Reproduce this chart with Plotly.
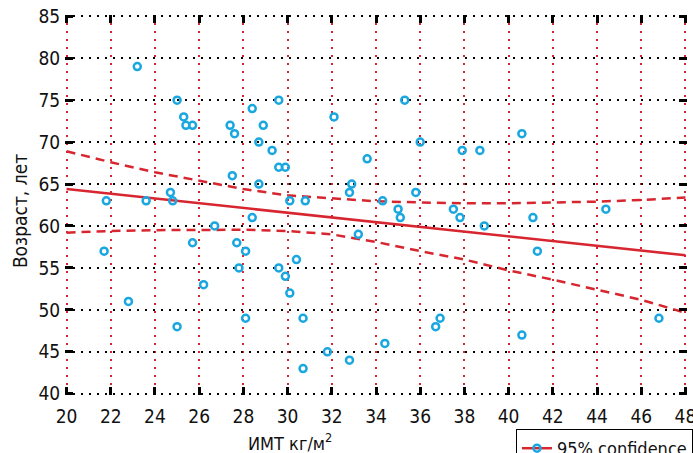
import plotly.graph_objects as go

# Scatter data: BMI (kg/m2) vs age (years)
bmi = [23.2, 25.0, 25.3, 25.4, 25.7, 27.4, 27.6, 27.5, 28.4, 28.9, 28.7, 29.3, 29.6, 29.6, 29.9,
       28.7, 24.7, 21.8, 24.8, 23.6, 26.7, 28.4, 30.1, 30.8, 21.7, 25.7, 27.7, 28.1, 30.4, 27.8,
       29.6, 29.9, 30.1, 26.2, 22.8, 28.1, 25.0, 30.7, 30.7, 31.8, 32.8, 34.4, 36.9, 36.7, 32.1,
       35.3, 36.0, 37.9, 38.7, 33.6, 32.9, 32.8, 35.8, 34.3, 35.0, 35.1, 37.5, 37.8, 38.9, 33.2,
       40.6, 41.1, 44.4, 41.3, 40.6, 46.8]
age = [79, 75, 73, 72, 72, 72, 71, 66, 74, 72, 70, 69, 75, 67, 67,
       65, 64, 63, 63, 63, 60, 61, 63, 63, 57, 58, 58, 57, 56, 55,
       55, 54, 52, 53, 51, 49, 48, 49, 43, 45, 44, 46, 49, 48, 73,
       75, 70, 69, 69, 68, 65, 64, 64, 63, 62, 61, 62, 61, 60, 59,
       71, 61, 62, 57, 47, 49]

# Regression line
fit_x = [20, 48]
fit_y = [64.4, 56.5]

# 95% confidence band
band_x = [20, 22, 24, 26, 28, 30, 32, 34, 36, 38, 40, 42, 44, 46, 48]
band_upper = [68.9, 67.6, 66.4, 65.4, 64.4, 63.65, 63.3, 62.95, 62.8, 62.7, 62.7, 62.8, 62.9, 63.1, 63.4]
band_lower = [59.2, 59.4, 59.5, 59.55, 59.55, 59.4, 59.0, 58.1, 57.0, 56.0, 54.7, 53.6, 52.4, 51.2, 49.65]

x_ticks = list(range(20, 49, 2))
y_ticks = list(range(40, 86, 5))

RED = "#d7262f"
BLUE = "#1aa7e0"
FONT = "Liberation Sans Narrow, DejaVu Sans Condensed, sans-serif"
FS = 19

fig = go.Figure()
fig.add_trace(go.Scatter(x=band_x, y=band_upper, mode="lines",
                         line=dict(color=RED, width=2.5, dash="9px,6px"), showlegend=False))
fig.add_trace(go.Scatter(x=band_x, y=band_lower, mode="lines",
                         line=dict(color=RED, width=2.5, dash="9px,6px"), showlegend=False))
fig.add_trace(go.Scatter(x=fit_x, y=fit_y, mode="lines",
                         line=dict(color=RED, width=2.5), showlegend=False))
fig.add_trace(go.Scatter(x=bmi, y=age, mode="markers",
                         marker=dict(symbol="circle-open", size=7, color=BLUE,
                                     line=dict(width=2.5, color=BLUE)),
                         showlegend=False))
fig.add_trace(go.Scatter(x=[None], y=[None], mode="lines+markers", name="95% confidence",
                         line=dict(color=RED, width=2.5),
                         marker=dict(symbol="circle-open", size=7, color=BLUE,
                                     line=dict(width=2.5, color=BLUE))))

axis_common = dict(ticks="inside", ticklen=8, tickwidth=2.5, tickcolor="black",
                   mirror="ticks", showline=True, linecolor="rgba(0,0,0,0)", linewidth=1,
                   zeroline=False, showgrid=True, gridwidth=2, griddash="2px,6px",
                   automargin=False, ticklabeloverflow="allow")

fig.update_layout(
    width=693, height=453,
    margin=dict(l=65, r=6, t=15, b=58, autoexpand=False),
    paper_bgcolor="white", plot_bgcolor="white",
    font=dict(family=FONT, size=FS, color="#111"),
    legend=dict(x=0.725, y=-0.0895, xanchor="left", yanchor="top",
                bordercolor="black", borderwidth=1, bgcolor="white",
                font=dict(size=18), itemwidth=30, tracegroupgap=0),
    xaxis=dict(range=[19.93, 48.07], tickvals=x_ticks, gridcolor=RED,
               ticklabelstandoff=4, **axis_common),
    yaxis=dict(range=[39.85, 85.15], tickvals=y_ticks, gridcolor="black",
               ticklabelstandoff=0, **axis_common),
    annotations=[
        dict(text="ИМТ кг/м<sup>2</sup>", xref="paper", yref="paper", x=0.362, y=-0.124,
             xanchor="center", yanchor="middle", showarrow=False, font=dict(size=18)),
        dict(text="Возраст, лет", xref="paper", yref="paper", x=-0.0723, y=0.484,
             xanchor="center", yanchor="middle", textangle=-90, showarrow=False,
             font=dict(size=FS)),
    ],
)

fig.write_html("out.html", config={"displayModeBar": False},
               post_script="document.body.style.margin='0';document.documentElement.style.overflow='hidden';")
